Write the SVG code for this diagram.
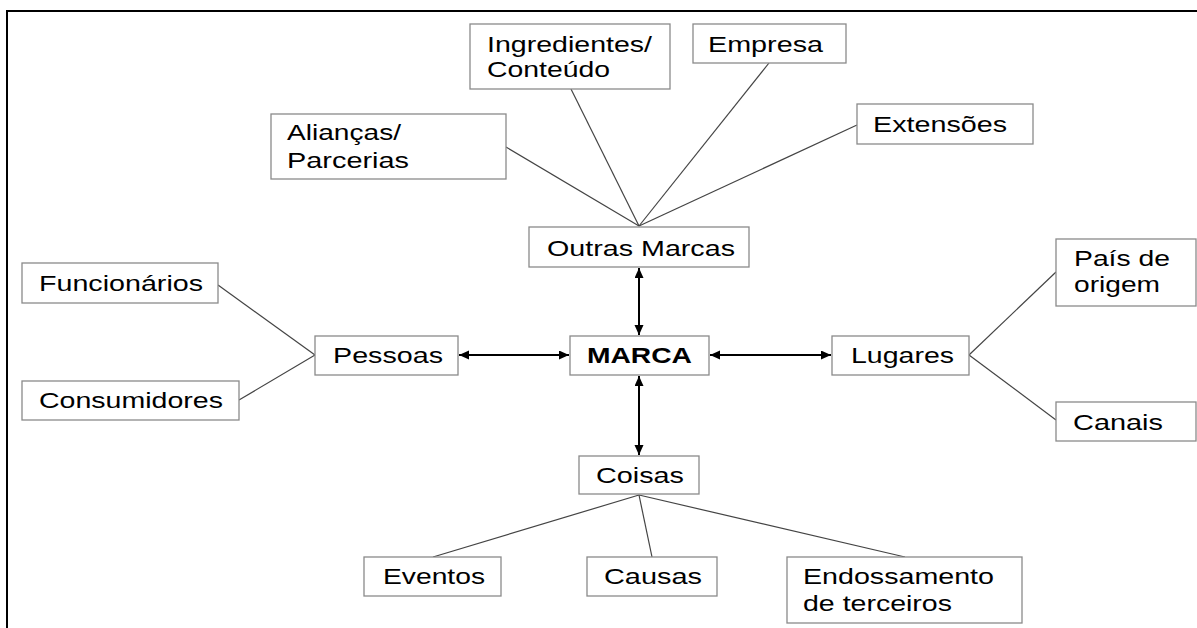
<svg xmlns="http://www.w3.org/2000/svg" width="1197" height="628" viewBox="0 0 1197 628">
  <style>
    .box { fill: #ffffff; stroke: #8a8a8a; stroke-width: 1.3; }
    .lbl { font-family: "Liberation Sans", Arial, sans-serif; font-size: 22px; fill: #000000; }
    .bold { font-weight: bold; }
    .link { stroke: #444444; stroke-width: 1.2; fill: none; }
    .arrow { stroke: #000000; stroke-width: 2; fill: none; marker-start: url(#head); marker-end: url(#head); }
  </style>
  <defs>
    <marker id="head" markerUnits="userSpaceOnUse" markerWidth="11" markerHeight="10" refX="10" refY="4.5" orient="auto-start-reverse">
      <path d="M0,0 L10,4.5 L0,9 z" fill="#000000"/>
    </marker>
  </defs>

  <rect width="1197" height="628" fill="#ffffff"/>
  <!-- frame -->
  <path d="M7,628 L7,11 L1197,11" fill="none" stroke="#000000" stroke-width="2"/>

  <!-- connectors -->
  <g id="connectors">
    <line class="link" x1="639" y1="226" x2="506" y2="147"/>
    <line class="link" x1="639" y1="226" x2="571" y2="89"/>
    <line class="link" x1="639" y1="226" x2="769" y2="63"/>
    <line class="link" x1="639" y1="226" x2="857" y2="125"/>
    <line class="link" x1="315" y1="355" x2="218" y2="285"/>
    <line class="link" x1="315" y1="355" x2="239" y2="400"/>
    <line class="link" x1="969" y1="355" x2="1056" y2="272"/>
    <line class="link" x1="969" y1="355" x2="1056" y2="420"/>
    <line class="link" x1="639" y1="495" x2="433" y2="557"/>
    <line class="link" x1="639" y1="495" x2="652" y2="557"/>
    <line class="link" x1="639" y1="495" x2="905" y2="557"/>
    <line class="arrow" x1="639" y1="268" x2="639" y2="335"/>
    <line class="arrow" x1="639" y1="376" x2="639" y2="455"/>
    <line class="arrow" x1="459" y1="355" x2="569" y2="355"/>
    <line class="arrow" x1="710" y1="355" x2="831" y2="355"/>
  </g>

  <g id="aliancas">
    <rect class="box" x="271" y="114" width="235" height="65"/>
    <text class="lbl" x="287" y="140" textLength="114" lengthAdjust="spacingAndGlyphs">Alianças/</text>
    <text class="lbl" x="287" y="168" textLength="122" lengthAdjust="spacingAndGlyphs">Parcerias</text>
  </g>
  <g id="ingredientes">
    <rect class="box" x="470" y="24" width="200" height="65"/>
    <text class="lbl" x="487" y="52" textLength="165" lengthAdjust="spacingAndGlyphs">Ingredientes/</text>
    <text class="lbl" x="487" y="77" textLength="123" lengthAdjust="spacingAndGlyphs">Conteúdo</text>
  </g>
  <g id="empresa">
    <rect class="box" x="693" y="24" width="153" height="39"/>
    <text class="lbl" x="708" y="52" textLength="115" lengthAdjust="spacingAndGlyphs">Empresa</text>
  </g>
  <g id="extensoes">
    <rect class="box" x="857" y="104" width="176" height="40"/>
    <text class="lbl" x="873" y="132" textLength="134" lengthAdjust="spacingAndGlyphs">Extensões</text>
  </g>
  <g id="outras-marcas">
    <rect class="box" x="529" y="227" width="220" height="40"/>
    <text class="lbl" x="547" y="256" textLength="188" lengthAdjust="spacingAndGlyphs">Outras Marcas</text>
  </g>
  <g id="funcionarios">
    <rect class="box" x="22" y="263" width="196" height="40"/>
    <text class="lbl" x="39" y="291" textLength="164" lengthAdjust="spacingAndGlyphs">Funcionários</text>
  </g>
  <g id="consumidores">
    <rect class="box" x="22" y="381" width="217" height="39"/>
    <text class="lbl" x="39" y="408" textLength="184" lengthAdjust="spacingAndGlyphs">Consumidores</text>
  </g>
  <g id="pessoas">
    <rect class="box" x="315" y="336" width="143" height="39"/>
    <text class="lbl" x="333" y="363" textLength="110" lengthAdjust="spacingAndGlyphs">Pessoas</text>
  </g>
  <g id="marca">
    <rect class="box" x="570" y="336" width="139" height="39"/>
    <text class="lbl bold" x="587" y="363" textLength="105" lengthAdjust="spacingAndGlyphs">MARCA</text>
  </g>
  <g id="lugares">
    <rect class="box" x="832" y="336" width="137" height="39"/>
    <text class="lbl" x="851" y="363" textLength="103" lengthAdjust="spacingAndGlyphs">Lugares</text>
  </g>
  <g id="pais-de-origem">
    <rect class="box" x="1056" y="239" width="140" height="67"/>
    <text class="lbl" x="1074" y="266" textLength="96" lengthAdjust="spacingAndGlyphs">País de</text>
    <text class="lbl" x="1074" y="292" textLength="86" lengthAdjust="spacingAndGlyphs">origem</text>
  </g>
  <g id="canais">
    <rect class="box" x="1056" y="402" width="140" height="39"/>
    <text class="lbl" x="1073" y="430" textLength="90" lengthAdjust="spacingAndGlyphs">Canais</text>
  </g>
  <g id="coisas">
    <rect class="box" x="579" y="456" width="120" height="38"/>
    <text class="lbl" x="596" y="483" textLength="88" lengthAdjust="spacingAndGlyphs">Coisas</text>
  </g>
  <g id="eventos">
    <rect class="box" x="364" y="557" width="137" height="39"/>
    <text class="lbl" x="383" y="584" textLength="102" lengthAdjust="spacingAndGlyphs">Eventos</text>
  </g>
  <g id="causas">
    <rect class="box" x="587" y="557" width="130" height="39"/>
    <text class="lbl" x="604" y="584" textLength="98" lengthAdjust="spacingAndGlyphs">Causas</text>
  </g>
  <g id="endossamento">
    <rect class="box" x="787" y="557" width="235" height="66"/>
    <text class="lbl" x="803" y="584" textLength="191" lengthAdjust="spacingAndGlyphs">Endossamento</text>
    <text class="lbl" x="803" y="611" textLength="149" lengthAdjust="spacingAndGlyphs">de terceiros</text>
  </g>
</svg>
